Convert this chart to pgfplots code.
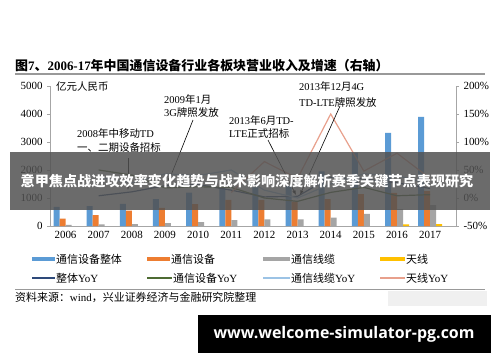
\documentclass[border=0pt]{standalone}
\usepackage{pgfplots}
\pgfplotsset{compat=1.18}
\usepackage{fontspec}
\setmainfont{Liberation Serif}
\newfontfamily\cjk{Noto Sans CJK SC}
\newfontfamily\urlfont{Open Sans}
\newcommand\zh[1]{{\cjk #1}}
\definecolor{cBlue}{HTML}{5B9BD5}
\definecolor{cOrange}{HTML}{ED7D31}
\definecolor{cGray}{HTML}{A5A5A5}
\definecolor{cYellow}{HTML}{FFC000}
\definecolor{cNavy}{HTML}{2E4A7A}
\definecolor{cGreen}{HTML}{4E6B32}
\definecolor{cLBlue}{HTML}{9CC3E5}
\definecolor{cSalmon}{HTML}{E8A08C}
\definecolor{cAxis}{HTML}{A6A6A6}
\begin{document}
\begin{tikzpicture}[x=1bp,y=1bp]
\fill[white] (0,0) rectangle (500,362);
\begin{axis}[at={(50bp,136bp)}, anchor=south west, width=406bp, height=140bp, scale only axis,
  xmin=2005.532, xmax=2017.78, ymin=0, ymax=5000,
  axis y line*=left, axis x line*=bottom,
  axis line style={cAxis,line width=0.6bp},
  ybar=0pt, bar width=6bp,
  xtick={2006,...,2017},
  xticklabels={2006,2007,2008,2009,2010,2011,2012,2013,2014,2015,2016,2017},
  x tick label style={font=\fontsize{11}{12}\selectfont, yshift=1bp},
  major x tick style={draw=none},
  ytick={0,1000,2000,3000,4000,5000},
  yticklabels={0,1000,2000,3000,4000,5000},
  y tick label style={font=\fontsize{11}{12}\selectfont, xshift=-1bp},
  tick align=outside, major tick length=3bp,
  y tick style={cAxis,line width=0.6bp},
  clip=false]
\addplot[fill=cBlue, draw=none] coordinates {(2006,680) (2007,710) (2008,790) (2009,960) (2010,1190) (2011,1360) (2012,1380) (2013,1420) (2014,1950) (2015,2620) (2016,3330) (2017,3900)};
\addplot[fill=cOrange, draw=none] coordinates {(2006,260) (2007,390) (2008,550) (2009,650) (2010,780) (2011,930) (2012,930) (2013,870) (2014,960) (2015,1140) (2016,1180) (2017,1250)};
\addplot[fill=cGray, draw=none] coordinates {(2006,40) (2007,55) (2008,70) (2009,100) (2010,140) (2011,210) (2012,240) (2013,240) (2014,300) (2015,430) (2016,600) (2017,750)};
\addplot[fill=cYellow, draw=none] coordinates {(2016,60) (2017,70)};
\end{axis}
\begin{axis}[at={(50bp,136bp)}, anchor=south west, width=406bp, height=140bp, scale only axis,
  xmin=2005.532, xmax=2017.78, ymin=-50, ymax=200,
  axis y line*=right, axis x line=none,
  axis line style={cAxis,line width=0.6bp},
  ytick={-50,0,50,100,150,200},
  yticklabels={-50\%,0\%,50\%,100\%,150\%,200\%},
  y tick label style={font=\fontsize{11}{12}\selectfont, xshift=1bp},
  tick align=outside, major tick length=3bp,
  y tick style={cAxis,line width=0.6bp}]
\addplot[cNavy, line width=1.2bp, mark=none] coordinates {(2007,4) (2008,11) (2009,22) (2010,24) (2011,14) (2012,2) (2013,3) (2014,37) (2015,34) (2016,27) (2017,17)};
\addplot[cGreen, line width=1.2bp, mark=none] coordinates {(2007,50) (2008,41) (2009,18) (2010,20) (2011,19) (2012,0) (2013,-6) (2014,10) (2015,19) (2016,4) (2017,6)};
\addplot[cLBlue, line width=1.2bp, mark=none] coordinates {(2007,37) (2008,27) (2009,43) (2010,40) (2011,50) (2012,14) (2013,0) (2014,25) (2015,43) (2016,40) (2017,25)};
\addplot[cSalmon, line width=1.2bp, mark=none] coordinates {(2011,10) (2012,65) (2013,35) (2014,150) (2015,48) (2016,80) (2017,35)};
\end{axis}
% title
\node[anchor=west, inner sep=0] at (15,296) {\fontsize{13}{14}\selectfont\bfseries\zh{图}7\zh{、}2006-17\zh{年中国通信设备行业各板块营业收入及增速（右轴）}};
\draw[gray!80, line width=1.2bp] (15,288) -- (485,288);
% unit
\node[anchor=west, inner sep=0] at (56,275) {\fontsize{10.5}{12}\selectfont\zh{亿元人民币}};
% annotations
\begin{scope}[every node/.style={anchor=west, inner sep=0, font=\fontsize{10.5}{12}\selectfont}]
\node at (164,262) {2009\zh{年}1\zh{月}};
\node at (164,249) {3G\zh{牌照发放}};
\node at (77,228) {2008\zh{年中移动}TD};
\node at (77,214) {\zh{一、二期设备招标}};
\node at (229,241) {2013\zh{年}6\zh{月}TD-};
\node at (229,228) {LTE\zh{正式招标}};
\node at (299,275) {2013\zh{年}12\zh{月}4G};
\node at (299,259) {TD-LTE\zh{牌照发放}};
\end{scope}
\draw[black, line width=0.6bp, -latex] (128,204) -- (128,172);
\draw[black, line width=0.6bp, -latex] (193,242) -- (168,179);
\draw[black, line width=0.6bp, -latex] (268,222) -- (296,167);
\draw[black, line width=0.6bp, -latex] (340,256) -- (300,167);
% legend
\begin{scope}[every node/.style={anchor=west, inner sep=0, font=\fontsize{11}{12}\selectfont}]
\fill[cBlue] (32,101) rectangle (55,105); \node at (56,103) {\zh{通信设备整体}};
\fill[cOrange] (147,101) rectangle (170,105); \node at (171,103) {\zh{通信设备}};
\fill[cGray] (263,101) rectangle (290,105); \node at (291,103) {\zh{通信线缆}};
\fill[cYellow] (380,101) rectangle (405,105); \node at (406,103) {\zh{天线}};
\draw[cNavy, line width=1.2bp] (32,84) -- (55,84); \node at (56,84) {\zh{整体}YoY};
\draw[cGreen, line width=1.2bp] (147,84) -- (172,84); \node at (173,84) {\zh{通信设备}YoY};
\draw[cLBlue, line width=1.2bp] (263,84) -- (290,84); \node at (291,84) {\zh{通信线缆}YoY};
\draw[cSalmon, line width=1.2bp] (380,84) -- (405,84); \node at (406,84) {\zh{天线}YoY};
\end{scope}
\draw[gray!80, line width=1bp] (15,73) -- (485,73);
\fill[gray!12] (388,56) rectangle (487,71);
\node[anchor=west, inner sep=0] at (15,65) {\fontsize{11}{12}\selectfont\zh{资料来源：}wind\zh{，兴业证券经济与金融研究院整理}};
% overlay banner
\fill[black!68, opacity=0.85] (10,152) rectangle (490,210);
\node[white, inner sep=0] at (247,181) {\fontsize{14.2}{15}\selectfont\cjk\bfseries 意甲焦点战进攻效率变化趋势与战术影响深度解析赛季关键节点表现研究};
\fill[black] (198,9) rectangle (491,47);
\node[white, inner sep=0] at (344,28) {\fontsize{16}{18}\selectfont\urlfont\bfseries www.welcome-simulator-pg.com};
\pgfresetboundingbox
\useasboundingbox (0,0) rectangle (500,362);
\end{tikzpicture}
\end{document}
